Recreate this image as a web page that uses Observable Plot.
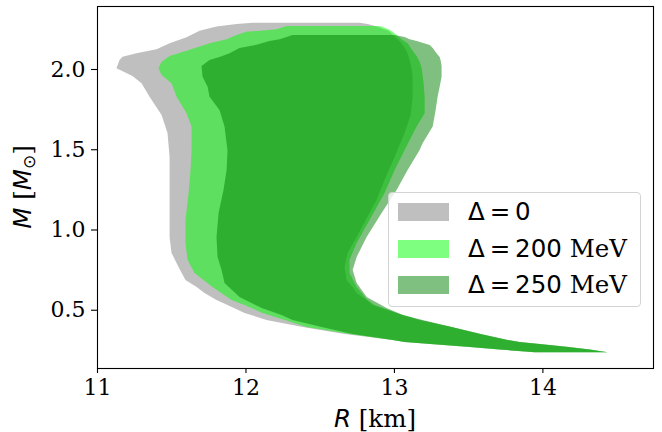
<!DOCTYPE html>
<html>
<head>
<meta charset="utf-8">
<script src="https://cdn.jsdelivr.net/npm/d3@7"></script>
<script src="https://cdn.jsdelivr.net/npm/@observablehq/plot@0.6"></script>
<style>
  html, body { margin: 0; padding: 0; background: white; }
  #wrap { position: relative; width: 662px; height: 432px; }
  #legend {
    position: absolute; left: 388px; top: 192px; width: 253px; height: 115px;
    border: 1px solid #d4d4d4; border-radius: 4px; background: rgba(255,255,255,0.8);
    box-sizing: border-box;
  }
  .sw { position: absolute; left: 9px; width: 51px; height: 18px; }
  .lab { position: absolute; left: 79px; white-space: nowrap; font-size: 24.5px; line-height: 24px; font-family: "DejaVu Serif"; color: #000; }
  .m { font-family: "DejaVu Sans"; }
  .eq { margin: 0 0.2em; }
</style>
</head>
<body>
<div id="wrap"><div id="chart"></div>
  <div id="legend"></div>
</div>
<script>
// ---- data (M in solar masses, R in km) ----
// Delta = 0
const mass0  = [2.288, 2.280, 2.264, 2.239, 2.198, 2.160, 2.123, 2.098, 2.077, 2.056, 2.004, 1.956, 1.911, 1.827, 1.713, 1.601, 1.452, 1.308, 1.184, 1.103, 0.953, 0.854, 0.766, 0.685, 0.642, 0.604, 0.561, 0.530, 0.480, 0.436, 0.393, 0.349];
const rMin0  = [12.048, 11.940, 11.805, 11.691, 11.603, 11.489, 11.401, 11.266, 11.172, 11.152, 11.131, 11.239, 11.300, 11.354, 11.435, 11.475, 11.489, 11.489, 11.489, 11.489, 11.489, 11.502, 11.549, 11.596, 11.671, 11.724, 11.805, 11.879, 11.994, 12.142, 12.385, 12.668];
const rMax0  = [12.769, 12.823, 12.883, 12.964, 13.011, 13.052, 13.079, 13.092, 13.099, 13.106, 13.119, 13.126, 13.126, 13.126, 13.113, 13.072, 13.005, 12.937, 12.883, 12.836, 12.749, 12.688, 12.668, 12.681, 12.722, 12.749, 12.816, 12.856, 13.018, 13.173, 13.389, 13.584];
// Delta = 200 MeV
const mass200 = [2.268, 2.247, 2.232, 2.212, 2.185, 2.160, 2.114, 2.081, 2.045, 2.004, 1.963, 1.911, 1.827, 1.724, 1.641, 1.495, 1.371, 1.227, 1.059, 0.916, 0.810, 0.729, 0.642, 0.561, 0.530, 0.480, 0.436, 0.393, 0.349];
const rMin200 = [12.277, 12.210, 12.007, 11.940, 11.873, 11.758, 11.603, 11.489, 11.435, 11.414, 11.435, 11.502, 11.536, 11.603, 11.637, 11.637, 11.630, 11.617, 11.596, 11.596, 11.610, 11.657, 11.778, 11.906, 11.994, 12.115, 12.264, 12.412, 12.701];
const rMax200 = [12.904, 12.964, 12.991, 13.018, 13.052, 13.092, 13.126, 13.153, 13.173, 13.187, 13.193, 13.200, 13.207, 13.207, 13.153, 13.072, 13.005, 12.937, 12.836, 12.749, 12.701, 12.701, 12.749, 12.823, 12.870, 13.018, 13.173, 13.389, 13.584];
// Delta = 250 MeV
const mass250 = [2.212, 2.199, 2.185, 2.174, 2.150, 2.131, 2.098, 2.075, 2.056, 2.019, 1.952, 1.890, 1.827, 1.745, 1.641, 1.537, 1.495, 1.371, 1.246, 1.103, 0.953, 0.829, 0.748, 0.667, 0.579, 0.511, 0.467, 0.436, 0.393, 0.349];
const rMin250 = [12.317, 12.277, 12.230, 12.162, 12.068, 11.960, 11.893, 11.825, 11.758, 11.704, 11.711, 11.745, 11.758, 11.825, 11.859, 11.873, 11.879, 11.873, 11.852, 11.819, 11.805, 11.812, 11.839, 11.859, 11.960, 12.109, 12.243, 12.317, 12.513, 12.722];
const rMax250 = [13.005, 13.072, 13.106, 13.153, 13.241, 13.261, 13.287, 13.308, 13.314, 13.321, 13.321, 13.308, 13.294, 13.281, 13.261, 13.193, 13.173, 13.092, 13.018, 12.917, 12.816, 12.749, 12.722, 12.749, 12.816, 12.951, 13.059, 13.193, 13.389, 13.584];
// low-mass tail shared by all three bands
const massTail = [0.312, 0.299, 0.287, 0.270, 0.252, 0.235];
const rMinTail = [12.991, 13.072, 13.245, 13.490, 13.712, 13.948];
const rMaxTail = [13.766, 13.847, 13.982, 14.162, 14.319, 14.440];

const xTicks = [11, 12, 13, 14];
const yTicks = [0.5, 1.0, 1.5, 2.0];
const deltaValues = ["0", "200", "250"];
const units = ["", " MeV", " MeV"];
const fills = ["#bfbfbf", "lime", "green"];
const opac = [1, 0.5, 0.5];

function band(m, lo, hi) {
  const rows = m.map((v, i) => ({m: v, lo: lo[i], hi: hi[i]}));
  massTail.forEach((v, i) => rows.push({m: v, lo: rMinTail[i], hi: rMaxTail[i]}));
  return rows;
}
const bands = [band(mass0, rMin0, rMax0), band(mass200, rMin200, rMax200), band(mass250, rMin250, rMax250)];

const plot = Plot.plot({
  width: 662, height: 432,
  marginLeft: 97, marginRight: 9, marginTop: 6, marginBottom: 64,
  style: {fontFamily: "DejaVu Serif", fontSize: "22px", background: "white", color: "black"},
  x: {domain: [11.0, 14.745]},
  y: {domain: [0.137, 2.3925]},
  marks: [
    ...bands.map((b, k) => Plot.areaX(b, {y: "m", x1: "lo", x2: "hi", fill: fills[k], fillOpacity: opac[k], curve: "linear"})),
    Plot.frame({stroke: "black", strokeWidth: 1.1}),
    Plot.axisX({ticks: xTicks, tickSize: 5, tickPadding: 6, tickFormat: d => String(d), label: null, fontSize: 22, strokeWidth: 1.1}),
    Plot.axisY({ticks: yTicks, tickSize: 6, tickPadding: 6, tickFormat: d3.format(".1f"), label: null, fontSize: 22, strokeWidth: 1.1})
  ]
});
document.getElementById("chart").appendChild(plot);

const svg = d3.select(plot);
const xl = svg.append("text").attr("x", 375).attr("y", 427).attr("text-anchor", "middle").attr("font-size", 24.5);
xl.append("tspan").attr("font-family", "DejaVu Sans").attr("font-style", "italic").text("R");
xl.append("tspan").attr("font-family", "DejaVu Serif").text(" [km]");

const yl = svg.append("text").attr("transform", "translate(31,187) rotate(-90)").attr("text-anchor", "middle").attr("font-size", 24.5);
yl.append("tspan").attr("font-family", "DejaVu Sans").attr("font-style", "italic").text("M");
yl.append("tspan").attr("font-family", "DejaVu Serif").text(" [");
yl.append("tspan").attr("font-family", "DejaVu Sans").attr("font-style", "italic").text("M");
yl.append("tspan").attr("font-family", "DejaVu Sans").attr("font-size", 17).attr("dy", 4).text("⊙");
yl.append("tspan").attr("font-family", "DejaVu Serif").attr("dy", -4).text("]");

// legend
const leg = document.getElementById("legend");
deltaValues.forEach((v, k) => {
  const top = 10 + k * 36.5;
  const sw = document.createElement("div");
  sw.className = "sw";
  sw.style.top = top + "px";
  sw.style.background = fills[k];
  sw.style.opacity = opac[k];
  leg.appendChild(sw);
  const lab = document.createElement("div");
  lab.className = "lab";
  lab.style.top = (top - 3) + "px";
  lab.innerHTML = '<span class="m">Δ<span class="eq">=</span>' + v + '</span>' + units[k];
  leg.appendChild(lab);
});
</script>
</body>
</html>
